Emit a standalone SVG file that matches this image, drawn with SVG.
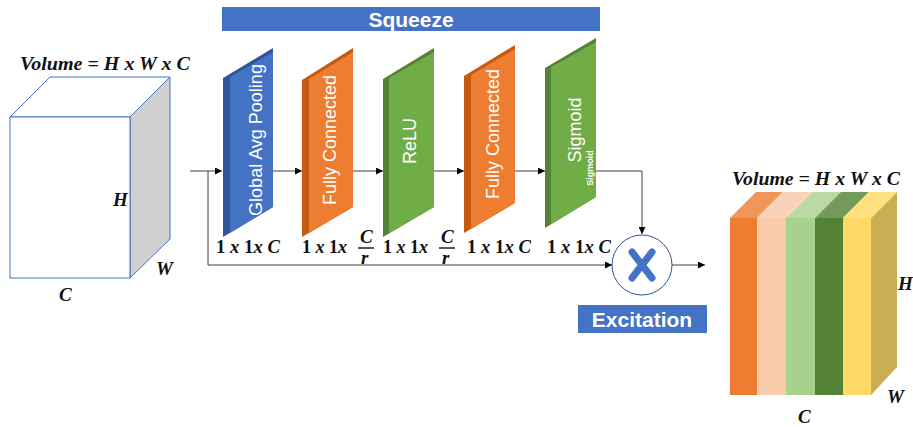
<svg xmlns="http://www.w3.org/2000/svg" width="913" height="428" viewBox="0 0 913 428">
<defs>
<marker id="ah" viewBox="0 0 10 10" refX="10" refY="5" markerWidth="7" markerHeight="7" orient="auto" markerUnits="userSpaceOnUse">
<path d="M0,0 L10,5 L0,10 z" fill="#000"/>
</marker>
<style>
.math{font-family:"Liberation Serif",serif;font-weight:bold;font-style:italic;font-size:19px;fill:#111}
.up{font-style:normal}
.pt{font-family:"Liberation Sans",Arial,sans-serif;font-size:18px;fill:#fff}
.conn{stroke:#404040;stroke-width:1;fill:none}
.title{font-family:"Liberation Sans",Arial,sans-serif;font-size:21px;font-weight:bold;fill:#fff}
</style>
</defs>
<rect width="913" height="428" fill="#fff"/>

<g id="input-volume">
<polygon points="130,117 170,77 170,239 130,278" fill="#d0d0d0" stroke="#4472C4" stroke-width="1"/>
<polygon points="10,117 50,77 170,77 130,117" fill="#fff" stroke="#4472C4" stroke-width="1"/>
<rect x="10" y="117" width="120" height="161" fill="#fff" stroke="#4472C4" stroke-width="1"/>
<text class="math" x="20" y="70" textLength="170" lengthAdjust="spacingAndGlyphs">Volume =  H x W x C</text>
<text class="math" x="113" y="206">H</text>
<text class="math" x="156" y="275">W</text>
<text class="math" x="59" y="301">C</text>
</g>

<g id="squeeze">
<rect x="222" y="7" width="378" height="24" fill="#4472C4"/>
<text class="title" x="411" y="27" text-anchor="middle">Squeeze</text>
</g>

<g id="gap">
<polygon points="223,78 273,48 273,207 223,237" fill="#2F5597"/>
<polygon points="230,77 273,52 273,207 230,233" fill="#4472C4"/>
<text class="pt" transform="translate(262,140) rotate(-90)" text-anchor="middle">Global Avg Pooling</text>
<text class="math" x="216" y="253" textLength="64" lengthAdjust="spacingAndGlyphs"><tspan class="up">1</tspan> x <tspan class="up">1</tspan>x C</text>
</g>

<g id="fc1">
<polygon points="302,80 353,48 353,207 302,237" fill="#C55A11"/>
<polygon points="309,79 353,52 353,207 309,233" fill="#ED7D31"/>
<text class="pt" transform="translate(336,140) rotate(-90)" text-anchor="middle">Fully Connected</text>
<text class="math" x="302" y="253" textLength="45" lengthAdjust="spacingAndGlyphs"><tspan class="up">1</tspan> x <tspan class="up">1</tspan>x</text>
<text class="math" x="360" y="243">C</text>
<line x1="358" y1="248" x2="374" y2="248" stroke="#111" stroke-width="1.4"/>
<text class="math" x="361" y="264">r</text>
</g>

<g id="relu">
<polygon points="383,79 434,48 434,207 383,237" fill="#548235"/>
<polygon points="389,78 434,52 434,207 389,233" fill="#70AD47"/>
<text class="pt" transform="translate(416,141) rotate(-90)" text-anchor="middle">ReLU</text>
<text class="math" x="383" y="253" textLength="45" lengthAdjust="spacingAndGlyphs"><tspan class="up">1</tspan> x <tspan class="up">1</tspan>x</text>
<text class="math" x="441" y="243">C</text>
<line x1="439" y1="248" x2="455" y2="248" stroke="#111" stroke-width="1.4"/>
<text class="math" x="442" y="264">r</text>
</g>

<g id="fc2">
<polygon points="464,76 515,45 515,203 464,233" fill="#C55A11"/>
<polygon points="471,75 515,49 515,203 471,229" fill="#ED7D31"/>
<text class="pt" transform="translate(499,134) rotate(-90)" text-anchor="middle">Fully Connected</text>
<text class="math" x="467" y="253" textLength="64" lengthAdjust="spacingAndGlyphs"><tspan class="up">1</tspan> x <tspan class="up">1</tspan>x C</text>
</g>

<g id="sigmoid">
<polygon points="545,68 596,38 596,197 545,228" fill="#548235"/>
<polygon points="551,67 596,42 596,197 551,224" fill="#70AD47"/>
<text class="pt" transform="translate(581,130) rotate(-90)" text-anchor="middle">Sigmoid</text>
<text transform="translate(593,168) rotate(-90)" text-anchor="middle" font-family="Liberation Sans, Arial, sans-serif" font-size="9" font-weight="bold" fill="#fff">Sigmoid</text>
<text class="math" x="547" y="253" textLength="64" lengthAdjust="spacingAndGlyphs"><tspan class="up">1</tspan> x <tspan class="up">1</tspan>x C</text>
</g>

<g id="multiply">
<circle cx="642" cy="265" r="30" fill="#fff" stroke="#2F5597" stroke-width="1"/>
<path d="M632,252 L652,278 M652,252 L632,278" stroke="#4472C4" stroke-width="7" stroke-linecap="round"/>
</g>

<g id="excitation">
<rect x="578" y="305" width="129" height="28" fill="#4472C4"/>
<text class="title" x="642" y="327" text-anchor="middle">Excitation</text>
</g>

<g id="output-volume">
<polygon points="871,218 897,192 897,367 871,395" fill="#CCAE52"/>
<polygon points="730,218 756,192 783,192 757,218" fill="#F0965A"/>
<polygon points="757,218 783,192 812,192 786,218" fill="#F8D3BA"/>
<polygon points="786,218 812,192 841,192 815,218" fill="#BAD9A4"/>
<polygon points="815,218 841,192 869,192 843,218" fill="#739B5A"/>
<polygon points="843,218 869,192 897,192 871,218" fill="#FFE07E"/>
<rect x="730" y="218" width="27" height="177" fill="#ED7D31"/>
<rect x="757" y="218" width="29" height="177" fill="#F8CBAD"/>
<rect x="786" y="218" width="29" height="177" fill="#A9D18E"/>
<rect x="815" y="218" width="28" height="177" fill="#548235"/>
<rect x="843" y="218" width="28" height="177" fill="#FFD966"/>
<text class="math" x="732" y="185" textLength="168" lengthAdjust="spacingAndGlyphs">Volume =  H x W x C</text>
<text class="math" x="898" y="290">H</text>
<text class="math" x="887" y="403">W</text>
<text class="math" x="798" y="423">C</text>
</g>

<g id="connectors">
<path class="conn" d="M190,171 L222,171" marker-end="url(#ah)"/>
<path class="conn" d="M208,171 L208,265 L612,265" marker-end="url(#ah)"/>
<path class="conn" d="M273,171 L302,171" marker-end="url(#ah)"/>
<path class="conn" d="M353,171 L383,171" marker-end="url(#ah)"/>
<path class="conn" d="M434,171 L464,171" marker-end="url(#ah)"/>
<path class="conn" d="M515,171 L545,171" marker-end="url(#ah)"/>
<path class="conn" d="M596,171 L642,171 L642,234" marker-end="url(#ah)"/>
<path class="conn" d="M672,265 L705,265" marker-end="url(#ah)"/>
</g>
</svg>
